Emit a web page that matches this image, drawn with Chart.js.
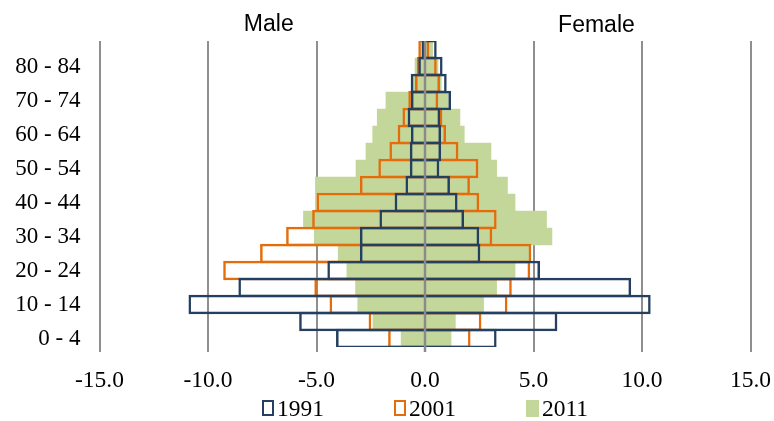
<!DOCTYPE html>
<html>
<head>
<meta charset="utf-8">
<script src="https://cdn.jsdelivr.net/npm/chart.js@4.4.1/dist/chart.umd.min.js"></script>
<style>
    body { margin: 0; background: #fff; }
    #wrap { position: relative; width: 774px; height: 421px; }
    #legend {
        position: absolute; top: 395px; height: 26px;
        display: flex; justify-content: center; align-items: center; gap: 70px;
        font: 23.5px "Liberation Serif", "Times New Roman", serif; color: #000;
    }
    .item { display: flex; align-items: center; gap: 3px; }
    .box { width: 8px; height: 12px; box-sizing: content-box; }
</style>
</head>
<body>
<div id="wrap">
    <canvas id="pyramid" width="774" height="421"></canvas>
    <div id="legend"></div>
</div>
<script>
    // age groups, bottom to top
    const ageGroups = ['0 - 4', '5 - 9', '10 - 14', '15 - 19', '20 - 24', '25 - 29', '30 - 34', '35 - 39',
        '40 - 44', '45 - 49', '50 - 54', '55 - 59', '60 - 64', '65 - 69', '70 - 74', '75 - 79', '80 - 84', '85+'];

    // % of population (male shown to the left)
    const male1991   = [4.1, 5.8, 10.9, 8.6, 4.5, 3.0, 3.0, 2.1, 1.4, 0.9, 0.7, 0.7, 0.65, 0.8, 0.65, 0.66, 0.31, 0.15];
    const female1991 = [3.3, 6.1, 10.4, 9.5, 5.3, 2.55, 2.5, 1.8, 1.5, 1.15, 0.66, 0.74, 0.74, 0.7, 1.2, 1.0, 0.81, 0.54];
    const male2001   = [1.7, 2.6, 4.4, 5.1, 9.3, 7.6, 6.4, 5.2, 5.0, 3.0, 2.15, 1.64, 1.26, 1.04, 0.77, 0.46, 0.38, 0.31];
    const female2001 = [2.1, 2.6, 3.8, 4.0, 4.85, 4.9, 3.1, 3.3, 2.5, 2.07, 2.46, 1.54, 0.97, 0.8, 0.61, 0.69, 0.54, 0.2];
    const male2011   = [1.1, 2.4, 3.1, 3.2, 3.6, 4.0, 5.1, 5.6, 5.05, 5.05, 3.18, 2.72, 2.41, 2.2, 1.8, 0.54, 0.46, 0.23];
    const female2011 = [1.2, 1.4, 2.7, 3.3, 4.15, 4.8, 5.85, 5.6, 4.15, 3.8, 3.3, 3.04, 1.81, 1.61, 1.07, 0.75, 0.6, 0.35];

    const xTicks = [-15, -10, -5, 0, 5, 10, 15];

    const BLUE = '#243F60';
    const ORANGE = '#E46C0A';
    const GREEN = '#C4D79B';
    const SERIF = '"Liberation Serif", "Times New Roman", serif';
    const EDGE = 2.5;

    // one floating bar per age group: [-male, female]
    const span = (m, f) => m.map((v, i) => [-v, f[i]]);

    // zero axis line + side titles, drawn over the bars
    const overlay = {
        id: 'overlay',
        afterDatasetsDraw(chart) {
            const { ctx, chartArea, scales: { x } } = chart;
            const x0 = x.getPixelForValue(0);
            ctx.save();
            ctx.strokeStyle = '#8a8a8a';
            ctx.lineWidth = 2.5;
            ctx.beginPath();
            ctx.moveTo(x0, chartArea.top);
            ctx.lineTo(x0, chartArea.bottom + 5);
            ctx.stroke();

            ctx.fillStyle = '#000';
            ctx.font = '23px "Liberation Sans", Arial, sans-serif';
            ctx.textAlign = 'center';
            ctx.textBaseline = 'middle';
            ctx.fillText('Male', x.getPixelForValue(-7.2), chartArea.top - 16);
            ctx.fillText('Female', x.getPixelForValue(7.9), chartArea.top - 15);
            ctx.restore();
        }
    };

    const chart = new Chart(document.getElementById('pyramid'), {
        type: 'bar',
        data: {
            labels: ageGroups,
            datasets: [
                {
                    label: '1991',
                    data: span(male1991, female1991),
                    backgroundColor: 'rgba(0,0,0,0)',
                    borderColor: BLUE,
                    borderWidth: EDGE,
                    borderSkipped: false,
                    grouped: false,
                    barPercentage: 1.15,
                    categoryPercentage: 1
                },
                {
                    label: '2001',
                    data: span(male2001, female2001),
                    backgroundColor: 'rgba(0,0,0,0)',
                    borderColor: ORANGE,
                    borderWidth: EDGE,
                    borderSkipped: false,
                    grouped: false,
                    barPercentage: 1.15,
                    categoryPercentage: 1
                },
                {
                    label: '2011',
                    data: span(male2011, female2011),
                    backgroundColor: GREEN,
                    borderWidth: 0,
                    grouped: false,
                    barPercentage: 1,
                    categoryPercentage: 1
                }
            ]
        },
        options: {
            indexAxis: 'y',
            responsive: false,
            animation: false,
            layout: { padding: { top: 41, right: 23.5, bottom: 22, left: 0 } },
            plugins: {
                legend: { display: false },
                tooltip: { enabled: false }
            },
            scales: {
                x: {
                    type: 'linear',
                    min: xTicks[0],
                    max: xTicks[xTicks.length - 1],
                    afterBuildTicks: (scale) => { scale.ticks = xTicks.map(v => ({ value: v })); },
                    ticks: {
                        callback: (v) => Number(v).toFixed(1),
                        font: { family: SERIF, size: 23.5 },
                        color: '#000',
                        padding: 15
                    },
                    grid: { color: '#8f8f8f', lineWidth: 2, drawTicks: true, tickLength: 5 },
                    border: { display: false },
                    afterFit: (scale) => {
                        scale.height = 52;
                        scale.paddingLeft = 0;
                        scale.paddingRight = 0;
                    }
                },
                y: {
                    type: 'category',
                    reverse: true,
                    grid: { display: false, drawTicks: false },
                    border: { display: false },
                    ticks: {
                        autoSkip: false,
                        callback: (v, i) => (i % 2 === 0 ? ageGroups[i] : ''),
                        font: { family: SERIF, size: 23 },
                        color: '#000',
                        padding: 19
                    },
                    afterFit: (scale) => {
                        scale.width = 99.5;
                        scale.paddingTop = 0;
                        scale.paddingBottom = 0;
                    }
                }
            }
        },
        plugins: [overlay]
    });

    // legend, centred under the plot area
    const legend = document.getElementById('legend');
    legend.style.left = chart.chartArea.left + 'px';
    legend.style.width = (chart.chartArea.right - chart.chartArea.left) + 'px';
    chart.data.datasets.forEach(ds => {
        const item = document.createElement('div');
        item.className = 'item';
        const box = document.createElement('span');
        box.className = 'box';
        if (ds.borderWidth) {
            box.style.border = '2.5px solid ' + ds.borderColor;
        } else {
            box.style.background = ds.backgroundColor;
            box.style.padding = '2.5px';
        }
        const txt = document.createElement('span');
        txt.textContent = ds.label;
        item.appendChild(box);
        item.appendChild(txt);
        legend.appendChild(item);
    });
</script>
</body>
</html>
